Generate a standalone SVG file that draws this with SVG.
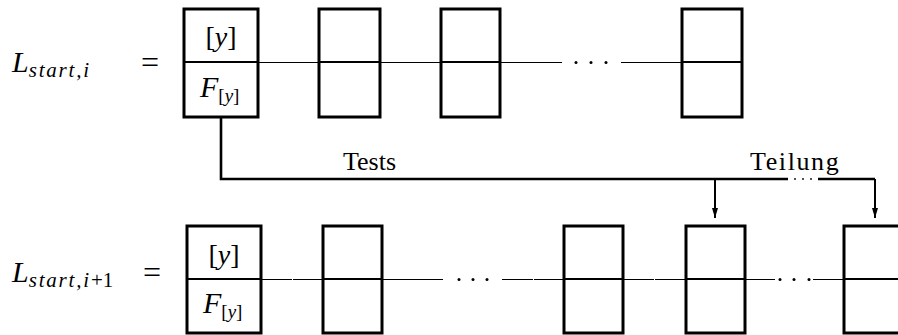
<svg xmlns="http://www.w3.org/2000/svg" width="898" height="335" viewBox="0 0 898 335">
  <style>
    .cell { fill: none; stroke: #000; stroke-width: 3; }
    .split { stroke: #000; stroke-width: 2; }
    .link { stroke: #000; stroke-width: 1; fill: none; }
    .flow { stroke: #000; stroke-width: 2.6; fill: none; }
    .drop { stroke: #000; stroke-width: 2; fill: none; }
    .math { font-family: "Liberation Serif", "Times New Roman", "DejaVu Serif", serif; font-style: italic; fill: #000; }
    .roman { font-family: "Liberation Serif", "Times New Roman", "DejaVu Serif", serif; font-style: normal; fill: #000; }
  </style>
  <defs>
    <marker id="head" viewBox="0 0 10 6" refX="10" refY="3" markerWidth="10" markerHeight="6" markerUnits="userSpaceOnUse" orient="auto">
      <path d="M0,0 L10,3 L0,6 Z" fill="#000"/>
    </marker>
  </defs>
  <rect width="898" height="335" fill="#fff"/>

  <!-- row labels -->
  <g id="label-top">
    <text x="12" y="72" class="math" font-size="30">L<tspan font-size="21" dy="5" letter-spacing="1.8">start,i</tspan></text>
    <text x="141" y="73" class="roman" font-size="32">=</text>
  </g>
  <g id="label-bottom">
    <text x="12" y="282" class="math" font-size="30">L<tspan font-size="21" dy="5" letter-spacing="1.8">start,i</tspan><tspan class="roman" font-size="21">+1</tspan></text>
    <text x="143" y="283" class="roman" font-size="32">=</text>
  </g>

  <!-- connectors -->
  <g id="connectors">
    <!-- top list links -->
    <line class="link" x1="258" y1="62.5" x2="319" y2="62.5"/>
    <line class="link" x1="380" y1="62.5" x2="441" y2="62.5"/>
    <line class="link" x1="500" y1="62.5" x2="562" y2="62.5"/>
    <line class="link" x1="621" y1="62.5" x2="682" y2="62.5"/>
    <g fill="#000">
      <circle cx="576" cy="62.5" r="1.5"/>
      <circle cx="591" cy="62.5" r="1.5"/>
      <circle cx="606" cy="62.5" r="1.5"/>
    </g>
    <!-- bottom list links -->
    <line class="link" x1="261" y1="279.5" x2="292" y2="279.5"/>
    <line class="link" x1="293" y1="279.5" x2="323" y2="279.5"/>
    <line class="link" x1="382" y1="279.5" x2="443" y2="279.5"/>
    <line class="link" x1="502" y1="279.5" x2="533" y2="279.5"/>
    <line class="link" x1="534" y1="279.5" x2="564" y2="279.5"/>
    <line class="link" x1="623" y1="279.5" x2="654" y2="279.5"/>
    <line class="link" x1="655" y1="279.5" x2="686" y2="279.5"/>
    <line class="link" x1="745" y1="279.5" x2="775" y2="279.5"/>
    <line class="link" x1="813" y1="279.5" x2="844" y2="279.5"/>
    <g fill="#000">
      <circle cx="459" cy="279.5" r="1.5"/>
      <circle cx="473" cy="279.5" r="1.5"/>
      <circle cx="487" cy="279.5" r="1.5"/>
      <circle cx="780" cy="279.5" r="1.5"/>
      <circle cx="794" cy="279.5" r="1.5"/>
      <circle cx="809" cy="279.5" r="1.5"/>
    </g>
    <!-- Tests / Teilung path -->
    <path class="flow" d="M221,117 V179 H788"/>
    <path class="flow" d="M818,179 H875"/>
    <g fill="#000">
      <circle cx="795" cy="179" r="0.9"/>
      <circle cx="803" cy="179" r="0.9"/>
      <circle cx="811" cy="179" r="0.9"/>
    </g>
    <line class="drop" x1="715" y1="179" x2="715" y2="218" marker-end="url(#head)"/>
    <line class="drop" x1="875" y1="179" x2="875" y2="218" marker-end="url(#head)"/>
    <text x="343" y="170" class="roman" font-size="26">Tests</text>
    <text x="750" y="170" class="roman" font-size="26" letter-spacing="1.6">Teilung</text>
  </g>

  <!-- top list cells -->
  <g id="top-0">
    <rect class="cell" x="184" y="9" width="74" height="108"/>
    <line class="split" x1="184" y1="62" x2="258" y2="62"/>
    <text x="221" y="46" class="math" font-size="28" text-anchor="middle"><tspan class="roman">[</tspan>y<tspan class="roman">]</tspan></text>
    <text x="200" y="97" class="math" font-size="30">F<tspan font-size="19" dy="5"><tspan class="roman">[</tspan>y<tspan class="roman">]</tspan></tspan></text>
  </g>
  <g id="top-1">
    <rect class="cell" x="319" y="9" width="61" height="108"/>
    <line class="split" x1="319" y1="62" x2="380" y2="62"/>
  </g>
  <g id="top-2">
    <rect class="cell" x="441" y="9" width="59" height="108"/>
    <line class="split" x1="441" y1="62" x2="500" y2="62"/>
  </g>
  <g id="top-3">
    <rect class="cell" x="682" y="9" width="60" height="108"/>
    <line class="split" x1="682" y1="62" x2="742" y2="62"/>
  </g>

  <!-- bottom list cells -->
  <g id="bottom-0">
    <rect class="cell" x="187" y="226" width="74" height="107"/>
    <line class="split" x1="187" y1="279" x2="261" y2="279"/>
    <text x="224" y="264" class="math" font-size="28" text-anchor="middle"><tspan class="roman">[</tspan>y<tspan class="roman">]</tspan></text>
    <text x="203" y="313" class="math" font-size="30">F<tspan font-size="19" dy="5"><tspan class="roman">[</tspan>y<tspan class="roman">]</tspan></tspan></text>
  </g>
  <g id="bottom-1">
    <rect class="cell" x="323" y="226" width="59" height="107"/>
    <line class="split" x1="323" y1="279" x2="382" y2="279"/>
  </g>
  <g id="bottom-2">
    <rect class="cell" x="564" y="226" width="59" height="107"/>
    <line class="split" x1="564" y1="279" x2="623" y2="279"/>
  </g>
  <g id="bottom-3">
    <rect class="cell" x="686" y="226" width="59" height="107"/>
    <line class="split" x1="686" y1="279" x2="745" y2="279"/>
  </g>
  <g id="bottom-4">
    <rect class="cell" x="844" y="226" width="61" height="107"/>
    <line class="split" x1="844" y1="279" x2="898" y2="279"/>
  </g>
</svg>
